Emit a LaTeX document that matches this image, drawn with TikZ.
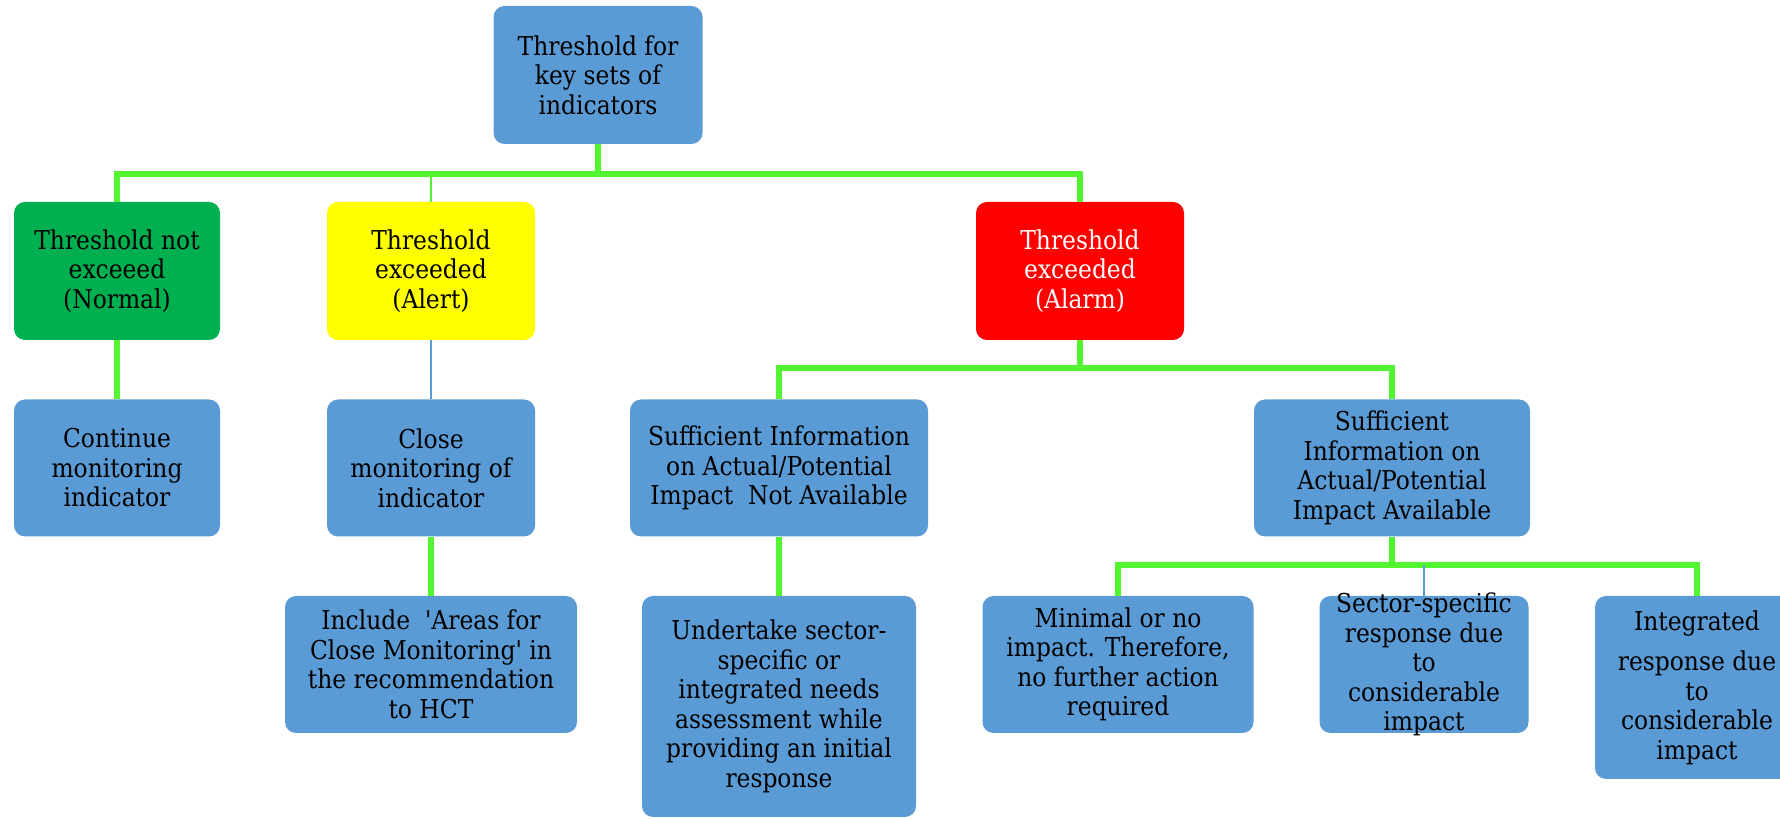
\documentclass[tikz,border=0pt]{standalone}
\usepackage{fontspec}
\setmainfont{DejaVu Serif Condensed}
\definecolor{boxblue}{RGB}{91,155,213}
\definecolor{normalgreen}{RGB}{0,176,80}
\definecolor{alertyellow}{RGB}{255,255,0}
\definecolor{alarmred}{RGB}{255,0,0}
\definecolor{linkgreen}{RGB}{82,245,48}
\begin{document}
\begin{tikzpicture}[x=1pt,y=1pt,
  box/.style={rectangle, rounded corners=11pt, fill=boxblue, inner sep=0pt, align=center,
    font=\fontsize{26}{29.5}\selectfont},
  trunk/.style={linkgreen, line width=6pt},
  twig/.style={linkgreen, line width=1.5pt},
  bluetwig/.style={boxblue, line width=1.5pt}]
\useasboundingbox (0,0) rectangle (1780,819);
% top level
\node[box, minimum width=209, minimum height=138] (top) at (598,744){Threshold for\\key sets of\\indicators};
% thresholds
\node[box, minimum width=206, minimum height=138, fill=normalgreen] (normal) at (117,548){Threshold not\\exceeed\\(Normal)};
\node[box, minimum width=208, minimum height=138, fill=alertyellow] (alert) at (431,548){Threshold\\exceeded\\(Alert)};
\node[box, minimum width=208, minimum height=138, fill=alarmred, text=white] (alarm) at (1080,548){Threshold\\exceeded\\(Alarm)};
\coordinate (j1) at (598,645);
\draw[trunk](top.south) -- (j1);
\draw[trunk](normal.north) |- (j1) -| (alarm.north);
\draw[twig](alert.north) -- (alert.north |- j1);
% second row
\node[box, minimum width=206, minimum height=137] (cont) at (117,351){Continue\\monitoring\\indicator};
\node[box, minimum width=208, minimum height=137] (close) at (431,351){Close\\monitoring of\\indicator};
\node[box, minimum width=298, minimum height=137] (suffna) at (779,351){Sufficient Information\\on Actual/Potential\\Impact\ \ Not Available};
\node[box, minimum width=276, minimum height=137] (suffa) at (1392,351){Sufficient\\Information on\\Actual/Potential\\Impact Available};
\draw[trunk](normal) -- (cont);
\draw[bluetwig](alert) -- (close);
\coordinate (j2) at (1080,451);
\draw[trunk](alarm.south) -- (j2);
\draw[trunk](suffna.north) |- (j2) -| (suffa.north);
% third row
\node[box, minimum width=292, minimum height=137] (include) at (431,154.5){Include\ \ \textquotesingle Areas for\\Close Monitoring\textquotesingle{} in\\the recommendation\\to HCT};
\node[box, minimum width=274, minimum height=221] (undertake) at (779,112.5){Undertake sector-\\specific or\\integrated needs\\assessment while\\providing an initial\\response};
\draw[trunk](close) -- (include);
\draw[trunk](suffna) -- (undertake);
\node[box, minimum width=271, minimum height=137] (minimal) at (1118,154.5){Minimal or no\\impact. Therefore,\\no further action\\required};
\node[box, minimum width=209, minimum height=137, inner ysep=-6pt] (sector) at (1424,154.5){Sector-specific\\response due\\to\\considerable\\impact};
\node[box, minimum width=204, minimum height=183] (integ) at (1697,131.5){Integrated\\[11pt]response due\\to\\considerable\\impact};
\coordinate (j3) at (1392,254);
\draw[trunk](suffa.south) -- (j3);
\draw[trunk](minimal.north) |- (j3) -| (integ.north);
\draw[bluetwig](sector.north) -- (sector.north |- j3);
\end{tikzpicture}
\end{document}
